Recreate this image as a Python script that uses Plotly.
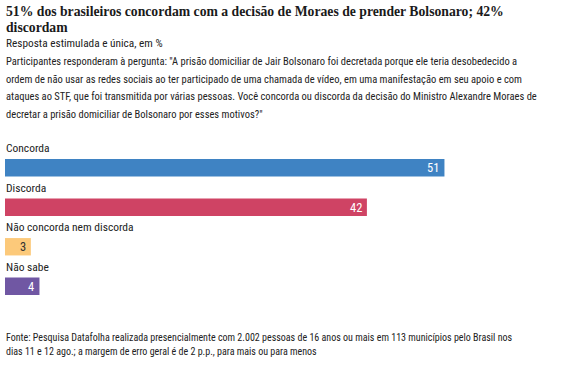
import plotly.graph_objects as go

categories = ["Concorda", "Discorda", "Não concorda nem discorda", "Não sabe"]
values = [51, 42, 3, 4]
colors = ["#3f83c3", "#cf4364", "#fcc97a", "#7057a3"]
text_colors = ["white", "white", "#333333", "white"]

title_lines = ["51% dos brasileiros concordam com a decisão de Moraes de prender Bolsonaro; 42%",
               "discordam"]
subtitle = "Resposta estimulada e única, em %"
question_lines = [
    "Participantes responderam à pergunta: \"A prisão domiciliar de Jair Bolsonaro foi decretada porque ele teria desobedecido a",
    "ordem de não usar as redes sociais ao ter participado de uma chamada de vídeo, em uma manifestação em seu apoio e com",
    "ataques ao STF, que foi transmitida por várias pessoas. Você concorda ou discorda da decisão do Ministro Alexandre Moraes de",
    "decretar a prisão domiciliar de Bolsonaro por esses motivos?\"",
]
footer_lines = [
    "Fonte: Pesquisa Datafolha realizada presencialmente com 2.002 pessoas de 16 anos ou mais em 113 municípios pelo Brasil nos",
    "dias 11 e 12 ago.; a margem de erro geral é de 2 p.p., para mais ou para menos",
]

W, H = 573, 366
SANS = "Roboto Condensed, Liberation Sans Narrow, sans-serif"
SERIF = "Liberation Serif, DejaVu Serif, serif"

L, R = 5, 51.4
top, bottom = 147.65, 306.4
PW, PH = W - L - R, bottom - top

fig = go.Figure(go.Bar(
    x=values, y=categories, orientation="h",
    marker=dict(color=colors, line=dict(width=0)),
    width=0.44, hoverinfo="skip",
))

fig.update_layout(
    width=W, height=H, margin=dict(l=L, r=R, t=top, b=H - bottom, autoexpand=False),
    plot_bgcolor="white", paper_bgcolor="white", showlegend=False,
    xaxis=dict(range=[0, 60], visible=False, fixedrange=True),
    yaxis=dict(range=[len(categories) - 0.5, -0.5], visible=False, fixedrange=True),
)

ann = []
def px_text(txt, y_px, size, family, bold=False, color="#222222"):
    ann.append(dict(text=("<b>%s</b>" % txt) if bold else txt,
                    x=(5 - L) / PW, y=(bottom - y_px) / PH,
                    xref="paper", yref="paper", xanchor="left", yanchor="middle",
                    showarrow=False, borderpad=0,
                    font=dict(size=size, family=family, color=color)))

for i, t in enumerate(title_lines):
    px_text(t, 11 + 15.5 * i, 13.7, SERIF, bold=True, color="#1a1a1a")
px_text(subtitle, 43, 11.3, SANS)
for i, t in enumerate(question_lines):
    px_text(t, 61 + 17.7 * i, 10.5, SANS)
for i, t in enumerate(footer_lines):
    px_text(t, 338 + 14.5 * i, 10, SANS)
for c in categories:
    ann.append(dict(text=c, x=0, y=c, xref="x", yref="y", xanchor="left", yanchor="middle",
                    yshift=19.5, showarrow=False, borderpad=0,
                    font=dict(size=11.5, family=SANS, color="#222222")))
for c, v, tc in zip(categories, values, text_colors):
    ann.append(dict(text=str(v), x=v, y=c, xref="x", yref="y", xanchor="right", yanchor="middle",
                    xshift=-4, showarrow=False, borderpad=0,
                    font=dict(size=12.5, family=SANS, color=tc)))

fig.update_layout(annotations=ann)
fig.write_html("out.html", config={"displayModeBar": False},
               post_script="document.body.style.margin='0';")
